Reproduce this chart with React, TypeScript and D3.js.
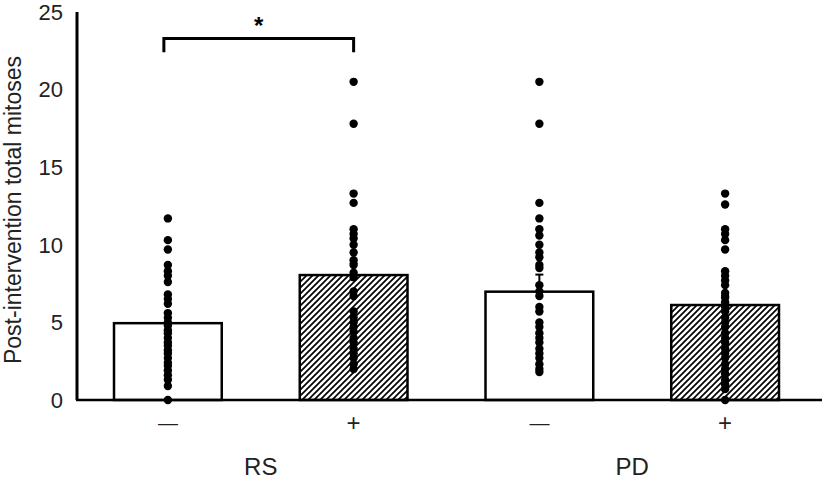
import { useRef, useEffect } from "react";
import * as d3 from "d3";

// data
const groups = ["RS", "PD"];
const treatments = ["\u2014", "+", "\u2014", "+"];
const barMeans = [4.95, 8.05, 6.98, 6.12];
const barSems = [0.65, 0.75, 1.1, 0.6];
const rsMinus = [11.7, 10.3, 9.7, 8.7, 8.3, 8.0, 7.6, 6.8, 6.5, 6.2, 5.6, 5.3, 5.0, 4.8, 4.5, 4.3, 4.0, 3.7, 3.5, 3.2, 3.0, 2.7, 2.4, 2.2, 1.9, 1.6, 1.3, 0.9, 0];
const rsPlus = [20.5, 17.8, 13.3, 12.7, 11.0, 10.7, 10.4, 10.0, 9.5, 9.0, 8.7, 8.2, 7.9, 7.0, 6.7, 5.7, 5.3, 5.0, 4.7, 4.4, 4.0, 3.7, 3.3, 3.0, 2.7, 2.3, 2.0];
const pdMinus = [20.5, 17.8, 12.7, 11.7, 11.0, 10.6, 10.0, 9.5, 9.2, 8.7, 8.5, 7.4, 7.0, 6.7, 6.0, 5.7, 5.0, 4.7, 4.3, 4.0, 3.7, 3.3, 3.0, 2.7, 2.3, 2.0, 1.8];
const pdPlus = [13.3, 12.6, 11.0, 10.7, 10.3, 9.7, 8.3, 8.0, 7.7, 7.4, 6.9, 6.6, 6.3, 6.0, 5.7, 5.3, 5.0, 4.7, 4.3, 4.0, 3.7, 3.3, 3.0, 2.7, 2.3, 2.0, 1.7, 1.3, 1.0, 0.7, 0];
const yTicks = [0, 5, 10, 15, 20, 25];
const hatched = [false, true, false, true];
// significance bracket between RS − and RS +
const bracket = { from: 0, to: 1, value: 23.3, drop: 0.9, label: "*" };

const FONT = "'Liberation Sans', Arial, sans-serif";

const App = () => {
  const svgRef = useRef<SVGSVGElement>(null);

  useEffect(() => {
    const w = 822;
    const h = 479;
    const svg = d3.select(svgRef.current).attr("width", w).attr("height", h);
    svg.selectAll("*").remove();

    const series = [rsMinus, rsPlus, pdMinus, pdPlus];
    const x = d3
      .scaleBand<number>()
      .domain(d3.range(series.length))
      .range([75, 818])
      .paddingInner(0.42)
      .paddingOuter(0.21);
    const y = d3.scaleLinear().domain([0, 25]).range([400, 12]);
    const cx = (i: number) => (x(i) as number) + x.bandwidth() / 2;

    // hatch
    svg
      .append("defs")
      .append("pattern")
      .attr("id", "hatch")
      .attr("patternUnits", "userSpaceOnUse")
      .attr("width", 6)
      .attr("height", 6)
      .append("path")
      .attr("d", "M-1,1 l2,-2 M0,6 l6,-6 M5,7 l2,-2")
      .attr("stroke", "#000")
      .attr("stroke-width", 1.7);

    // bars
    svg
      .selectAll(".bar")
      .data(barMeans)
      .join("rect")
      .attr("x", (d, i) => x(i) as number)
      .attr("y", (d) => y(d))
      .attr("width", x.bandwidth())
      .attr("height", (d) => y(0) - y(d))
      .attr("fill", (d, i) => (hatched[i] ? "url(#hatch)" : "#fff"))
      .attr("stroke", "#000")
      .attr("stroke-width", 2.5);

    // dots
    series.forEach((vals, i) => {
      svg
        .append("g")
        .selectAll("circle")
        .data(vals)
        .join("circle")
        .attr("cx", cx(i))
        .attr("cy", (d) => y(d))
        .attr("r", 4.2)
        .attr("fill", "#000");
    });

    // error bars (upper half)
    const eb = svg.append("g").attr("stroke", "#000").attr("stroke-width", 2);
    barMeans.forEach((m, i) => {
      eb.append("line").attr("x1", cx(i)).attr("x2", cx(i)).attr("y1", y(m)).attr("y2", y(m + barSems[i]));
      eb.append("line").attr("x1", cx(i) - 4).attr("x2", cx(i) + 4).attr("y1", y(m + barSems[i])).attr("y2", y(m + barSems[i]));
    });

    // axes
    svg.append("line").attr("x1", 77).attr("x2", 77).attr("y1", y(25)).attr("y2", y(0)).attr("stroke", "#000").attr("stroke-width", 3);
    svg.append("line").attr("x1", 76).attr("x2", 822).attr("y1", y(0)).attr("y2", y(0)).attr("stroke", "#000").attr("stroke-width", 2.5);

    svg
      .append("g")
      .selectAll("text")
      .data(yTicks)
      .join("text")
      .attr("x", 63)
      .attr("y", (d) => y(d))
      .attr("dy", "0.35em")
      .attr("text-anchor", "end")
      .attr("font-family", FONT)
      .attr("font-size", 22)
      .attr("fill", "#222")
      .text((d) => d);

    svg
      .append("text")
      .attr("transform", `translate(21,${(y(0) + y(25)) / 2 + 4}) rotate(-90)`)
      .attr("text-anchor", "middle")
      .attr("font-family", FONT)
      .attr("font-size", 23)
      .attr("fill", "#222")
      .text("Post-intervention total mitoses");

    svg
      .append("g")
      .selectAll("text")
      .data(treatments)
      .join("text")
      .attr("x", (d, i) => cx(i))
      .attr("y", (d) => (d === "+" ? 431 : 430))
      .attr("text-anchor", "middle")
      .attr("font-family", FONT)
      .attr("font-size", (d) => (d === "+" ? 24 : 20))
      .attr("fill", "#222")
      .text((d) => d);

    svg
      .append("g")
      .selectAll("text")
      .data(groups)
      .join("text")
      .attr("x", (d, i) => (cx(2 * i) + cx(2 * i + 1)) / 2)
      .attr("y", 475)
      .attr("text-anchor", "middle")
      .attr("font-family", FONT)
      .attr("font-size", 24)
      .attr("fill", "#222")
      .text((d) => d);

    // significance bracket
    const bx1 = cx(bracket.from) - 4;
    const bx2 = cx(bracket.to);
    const by = y(bracket.value);
    const byd = y(bracket.value - bracket.drop);
    svg
      .append("path")
      .attr("d", `M${bx1},${byd} V${by} H${bx2} V${byd}`)
      .attr("fill", "none")
      .attr("stroke", "#000")
      .attr("stroke-width", 3);
    svg
      .append("text")
      .attr("x", (bx1 + bx2) / 2)
      .attr("y", by - 4)
      .attr("text-anchor", "middle")
      .attr("font-family", FONT)
      .attr("font-size", 24)
      .attr("font-weight", "bold")
      .attr("fill", "#000")
      .text(bracket.label);
  }, []);

  return <svg ref={svgRef} style={{ position: "absolute", left: 0, top: 0 }}></svg>;
};

export default App;
